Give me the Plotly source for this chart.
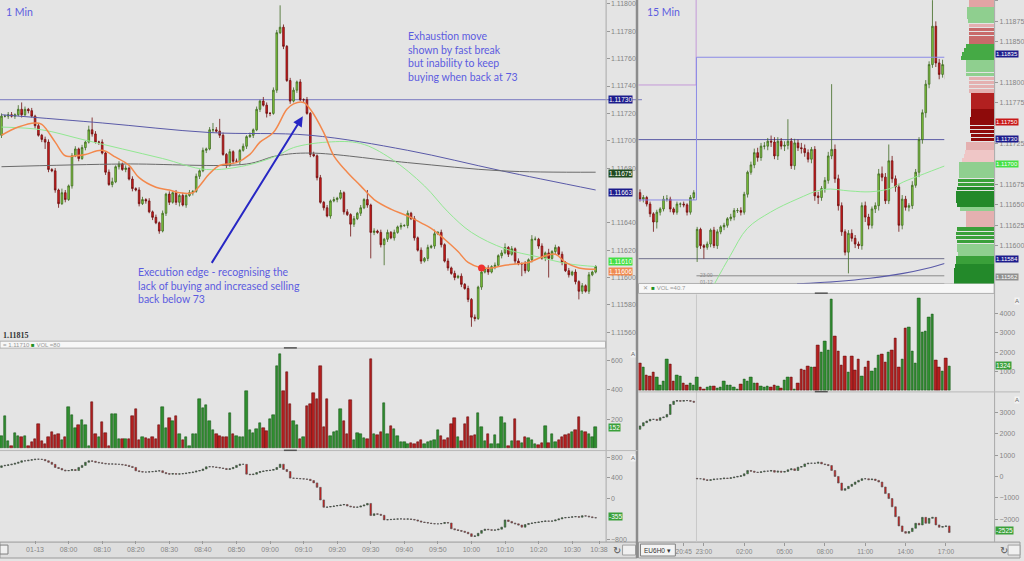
import plotly.graph_objects as go

W, H = 1024, 561

# ================= LEFT : 1 Min chart (index 0 = 07:40) =================
L_TICK_IDX = [10, 20, 30, 40, 50, 60, 70, 80, 90, 100, 110, 120, 130, 140, 150, 160, 170, 178]
L_TICK_TXT = ["01-13", "08:00", "08:10", "08:20", "08:30", "08:40", "08:50", "09:00", "09:10",
              "09:20", "09:30", "09:40", "09:50", "10:00", "10:10", "10:20", "10:30", "10:38"]
L_PRICE_TICKS = [111560, 111580, 111600, 111620, 111640, 111680, 111700, 111720, 111740, 111760,
                 111780, 111800]

# prices in points (1e-5)
L_OPEN0 = 111704
l_close = [
    111718, 111718, 111719, 111718, 111719, 111723, 111719, 111723, 111722, 111718,
    111711, 111704, 111701, 111699, 111679, 111678, 111664, 111654, 111662, 111657,
    111667, 111689, 111694, 111687, 111695, 111699, 111708, 111705, 111699, 111699,
    111691, 111677, 111668, 111670, 111681, 111683, 111679, 111680, 111672, 111665,
    111664, 111654, 111657, 111656, 111648, 111644, 111640, 111634, 111647, 111661,
    111655, 111662, 111655, 111660, 111653, 111660, 111662, 111663, 111674, 111678,
    111693, 111694, 111708, 111708, 111707, 111704, 111690, 111682, 111692, 111685,
    111685, 111693, 111696, 111703, 111704, 111708, 111723, 111729, 111726, 111720,
    111720, 111737, 111779, 111783, 111769, 111744, 111729, 111737, 111743, 111730,
    111730, 111720, 111690, 111689, 111673, 111655, 111651, 111645, 111656, 111657,
    111658, 111662, 111648, 111646, 111639, 111643, 111647, 111651, 111657, 111653,
    111633, 111634, 111633, 111624, 111628, 111633, 111629, 111633, 111637, 111638,
    111638, 111647, 111643, 111629, 111620, 111612, 111614, 111622, 111623, 111632,
    111633, 111624, 111612, 111607, 111603, 111600, 111601, 111595, 111592, 111584,
    111571, 111570, 111593, 111604, 111607, 111604, 111608, 111609, 111616, 111618,
    111622, 111617, 111621, 111612, 111610, 111610, 111605, 111613, 111628, 111628,
    111623, 111614, 111618, 111614, 111619, 111622, 111617, 111611, 111605, 111602,
    111604, 111597, 111590, 111594, 111590, 111602, 111604, 111608]
l_upper_wick = [
    2, 1, 2, 2, 1, 3, 5, 2, 1, 2,  1, 2, 1, 2, 2, 1, 2, 1, 3, 2,
    1, 2, 2, 1, 2, 1, 3, 9, 2, 1,  2, 1, 2, 3, 1, 2, 1, 2, 1, 2,
    1, 2, 2, 1, 2, 1, 2, 1, 2, 1,  2, 1, 2, 1, 2, 1, 2, 1, 2, 1,
    2, 1, 2, 5, 2, 9, 2, 1, 2, 1,  2, 1, 2, 1, 2, 1, 2, 1, 3, 2,
    1, 2, 2, 16, 2, 1, 2, 2, 1, 2,  1, 2, 1, 2, 1, 2, 1, 2, 1, 2,
    1, 2, 1, 2, 1, 2, 1, 2, 1, 7,  1, 2, 1, 2, 1, 2, 1, 2, 1, 2,
    1, 2, 1, 2, 1, 2, 1, 2, 1, 3,  1, 2, 1, 2, 1, 2, 1, 2, 1, 2,
    1, 2, 1, 2, 1, 2, 1, 2, 1, 2,  3, 1, 2, 1, 2, 1, 2, 1, 3, 2,
    1, 2, 1, 3, 1, 2, 1, 2, 1, 2,  1, 2, 1, 2, 1, 2, 1, 1]
l_lower_wick = [
    2, 1, 2, 1, 2, 1, 2, 1, 2, 1,  2, 1, 2, 5, 2, 1, 2, 3, 1, 2,
    1, 2, 1, 2, 1, 2, 1, 2, 1, 2,  1, 2, 1, 2, 1, 2, 1, 2, 1, 2,
    1, 2, 1, 2, 1, 2, 1, 2, 1, 2,  2, 1, 2, 3, 1, 2, 1, 2, 1, 2,
    1, 2, 1, 2, 1, 2, 1, 2, 1, 2,  1, 2, 1, 2, 1, 2, 1, 2, 1, 3,
    2, 1, 2, 1, 2, 1, 2, 1, 2, 1,  2, 1, 2, 1, 2, 1, 2, 1, 2, 1,
    2, 1, 2, 1, 9, 2, 1, 2, 1, 2,  19, 2, 1, 2, 15, 2, 1, 2, 1, 2,
    1, 2, 1, 2, 1, 2, 1, 2, 1, 2,  1, 2, 1, 2, 1, 2, 1, 2, 1, 2,
    7, 2, 1, 2, 1, 2, 1, 2, 1, 2,  1, 2, 1, 2, 1, 9, 2, 1, 2, 1,
    2, 1, 2, 14, 1, 2, 1, 2, 1, 2,  1, 2, 6, 2, 1, 2, 1, 1]
l_volume = [
    86, 221, 52, 18, 108, 86, 75, 86, 18, 41, 63, 165, 52, 29, 75, 115, 93, 97, 56, 79,
    282, 228, 142, 160, 197, 160, 18, 319, 97, 75,
    181, 108, 18, 237, 233, 63, 63, 63, 63, 221, 267, 59, 75, 70, 63, 75, 63, 158, 282, 142,
    210, 188, 221, 97, 56, 75, 18, 102, 102, 334, 278, 296, 188, 124, 97, 86, 75, 75, 244, 97,
    86, 79, 79, 391, 127, 108, 131, 172, 142, 120, 199, 226, 565, 646, 391, 522, 301, 188, 160,
    63, 75, 289, 301, 375, 334, 560, 147, 334, 86, 115, 120, 271, 188, 97, 328, 56, 108, 102, 70,
    63, 612, 102, 93, 115, 312, 102, 154, 131, 86, 41, 45, 29,
    34, 29, 41, 56, 29, 47, 52, 56, 124, 86, 59, 68, 170, 210, 75, 52,
    170, 215, 86, 93, 244, 147, 52, 102, 29, 90, 29, 215, 176, 18, 52, 199, 52, 34, 79, 68,
    56, 29, 25, 34,
    151, 34, 102, 45, 56, 79, 93, 102, 115, 127, 215, 120, 115, 97, 75, 147]
L_DELTA_OPEN0 = 600
l_delta = [
    631, 640, 650, 663, 680, 700, 728, 728, 740, 750,
    760, 760, 755, 730, 700, 660, 599, 580, 550, 535,
    540, 560, 540, 600, 640, 700, 728, 720, 700, 690,
    680, 670, 665, 668, 663, 660, 650, 640, 620, 600,
    535, 520, 510, 510, 515, 520, 530, 535, 500, 480,
    470, 480, 470, 475, 480, 490, 500, 510, 530, 540,
    570, 612, 615, 610, 600, 590, 580, 560, 575, 600,
    640, 663, 660, 470, 460, 470, 500, 520, 530, 540,
    545, 560, 599, 663, 560, 520, 393, 390, 385, 380,
    375, 370, 345, 300, 213, -32, -174, -170, -160, -150,
    -140, -130, -120, -150, -165, -174, -170, -150, -130, -100,
    -335, -300, -310, -330, -419, -415, -410, -405, -400, -400,
    -405, -400, -410, -420, -440, -460, -470, -480, -490, -496,
    -496, -490, -470, -480, -592, -610, -625, -640, -660, -689,
    -741, -730, -680, -625, -600, -610, -620, -615, -600, -560,
    -420, -450, -480, -496, -520, -560, -510, -490, -480, -470,
    -460, -450, -440, -445, -440, -420, -400, -380, -375, -370,
    -360, -355, -367, -340, -345, -360, -375, -380]

# moving averages read at sample candles (index, price points)
l_ema_fast_idx = [0, 5, 10, 12, 16, 19, 22, 25, 30, 34, 38, 41, 46, 50, 53, 57, 59, 62, 65, 70, 74, 77,
                  81, 85, 87, 90, 92, 96, 99, 103, 107, 111, 116, 121, 125, 128, 132, 136, 139, 143,
                  146, 150, 154, 157, 161, 165, 168, 172, 177]
l_ema_fast = [111704, 111710, 111713, 111712, 111699, 111689, 111689, 111690, 111693, 111688, 111682,
              111673, 111666, 111664, 111662, 111662, 111667, 111676, 111682, 111684, 111690, 111699,
              111706, 111723, 111727, 111728, 111723, 111706, 111689, 111677, 111667, 111657, 111650,
              111645, 111640, 111636, 111628, 111619, 111611, 111607, 111607, 111609, 111610, 111611,
              111615, 111617, 111611, 111607, 111606]
l_ma_green_idx = [0, 12, 24, 36, 48, 61, 73, 82, 87, 97, 107, 116, 126, 133, 140, 150, 160, 169, 177]
l_ma_green = [111710, 111708, 111701, 111694, 111687, 111679, 111682, 111689, 111695, 111699, 111698,
              111687, 111667, 111648, 111633, 111621, 111615, 111610, 111608]
l_ma_blue_idx = [0, 30, 62, 92, 121, 149, 177]
l_ma_blue = [111719, 111713, 111706, 111704, 111693, 111678, 111664]
l_ma_gray_idx = [0, 36, 73, 82, 92, 121, 149, 177]
l_ma_gray = [111681, 111683, 111683, 111689, 111691, 111684, 111678, 111677]
L_LEVEL = 111730
L_DOT_IDX, L_DOT = 143, 111607
L_TAGS = [111730, 111675, 111663, 111610, 111606]

# ================= RIGHT : 15 Min chart =================
R_TICK_IDX = [13, 19, 31, 43, 55, 67, 79, 91]
R_TICK_TXT = ["20:45", "23:00", "02:00", "05:00", "08:00", "11:00", "14:00", "17:00"]
R_PRICE_TICKS = [111600, 111625, 111650, 111675, 111725, 111775, 111800, 111850, 111875, 111900]
R_SESSION_START = 17
R_OPEN0, R_OPEN_SESSION = 111665, 111598
r_close = [
    111657, 111659, 111651, 111639, 111629, 111641, 111645, 111657, 111657, 111645, 111641, 111651,
    111651, 111650, 111641, 111659, 111665,
    111620, 111600, 111598, 111602, 111619, 111600, 111617, 111623, 111625, 111633, 111635, 111643,
    111643, 111641, 111663, 111690, 111699, 111714, 111708, 111722,
    111722, 111728, 111727, 111710, 111728, 111722, 111723, 111728, 111698, 111726, 111720, 111719,
    111714, 111706, 111718, 111661, 111659, 111670, 111680, 111710,
    111718, 111682, 111649, 111617, 111592, 111615, 111609, 111602, 111600, 111649, 111635, 111625,
    111645, 111649, 111688, 111684, 111655, 111704, 111682, 111672,
    111625, 111657, 111647, 111649, 111674, 111690, 111730, 111763, 111798, 111822, 111869, 111824,
    111810, 111822, 111804, 111831]
r_upper_wick = [
    4, 3, 2, 3, 2, 3, 2, 4, 5, 3, 2, 3, 2, 3, 2, 3, 3,
    3, 2, 2, 3, 2, 4, 3, 2, 3, 2, 4, 3, 3, 4, 3, 2, 4, 5, 6, 4,
    5, 4, 7, 6, 5, 4, 5, 27, 4, 5, 4, 6, 5, 4, 3, 4, 5, 3, 4, 5,
    80, 6, 5, 4, 3, 4, 5, 4, 3, 4, 5, 4, 3, 4, 6, 9, 5, 20, 6, 4,
    4, 5, 4, 3, 5, 4, 3, 4, 5, 4, 32, 6, 5, 6, 5, 7]
r_lower_wick = [
    3, 4, 3, 4, 12, 8, 4, 3, 3, 4, 3, 3, 4, 3, 4, 3, 3,
    18, 4, 14, 3, 4, 3, 4, 3, 4, 3, 3, 4, 3, 4, 3, 4, 3, 4, 5, 4,
    4, 5, 6, 4, 5, 4, 6, 5, 4, 5, 4, 6, 5, 4, 5, 6, 8, 4, 5, 4,
    4, 5, 6, 5, 4, 26, 4, 5, 4, 5, 6, 5, 4, 5, 6, 5, 4, 4, 5, 6,
    8, 5, 4, 5, 4, 3, 6, 5, 6, 5, 4, 5, 6, 4, 5, 4]
r_volume = [
    1402, 1231, 821, 735, 940, 718, 308, 513, 1625, 1368, 513, 821, 770, 376, 308, 376, 291,
    684, 171, 86, 171, 257, 257, 137, 171, 479, 308, 308, 205, 86, 342, 599, 513, 684, 376, 376,
    257, 171, 257, 171, 308, 257, 137, 564, 684, 684, 86, 376, 1111, 1077, 1282, 1231, 1231,
    2360, 2000, 2531, 2103, 4703, 2787, 2052, 1334, 1795, 940, 1778, 1060, 1607, 770, 1231,
    1539, 1026, 1163, 1847, 1881, 1488, 2000, 2086, 2685, 1197, 1625, 3215, 3249, 2018, 1419,
    4754, 3027, 3078, 3796, 3933, 1573, 1231, 1026, 1659, 1282]
R_DELTA_OPEN0, R_DELTA_OPEN_SESSION = 2206, -90
r_delta = [
    2361, 2515, 2592, 2669, 2669, 2623, 2747, 2777, 2900, 3364, 3518, 3549, 3518, 3549, 3549,
    3518, 3472,
    -108, -108, -154, -185, -154, -123, -123, -108, -77, -93, -62, -31, 0, 31, 123, 278, 247,
    201, 185, 216, 247,
    247, 278, 201, 247, 201, 231, 309, 355, 278, 432, 463, 586, 617, 617, 617, 663, 586, 555,
    509, 278, 0, -309, -648, -571, -463, -370, -262, -185, -108, -108, -154, -123, -185, -262,
    -494, -802, -1034, -1420, -1883, -2315, -2577, -2654, -2577, -2423, -2191, -2268, -1913,
    -2191, -1960, -1913, -2268, -2376, -2345, -2315, -2623]

r_ma_green_idx = [22.0, 26.9, 31.9, 38.8, 46.7, 54.6, 62.5, 68.4, 74.4, 78.3, 83.2, 92.1]
r_ma_green = [111552, 111588, 111621, 111641, 111657, 111669, 111667, 111666, 111670, 111678,
              111686, 111700]
r_ma_blue_idx = [46.7, 58.5, 68.4, 78.3, 85.2, 92.1]
r_ma_blue = [111553, 111556, 111560, 111566, 111572, 111580]
R_LEVEL_NAVY, R_LEVEL_GRAY1, R_LEVEL_GRAY2 = 111730, 111584, 111563
R_PINK_BEFORE, R_BLUE_BEFORE, R_BLUE_AFTER = 111797, 111656, 111831
R_TAGS = [111835, 111750, 111730, 111700, 111584, 111562]

# volume profile (price levels every 5 points, top to bottom)
PROF_TOP, PROF_STEP = 111900, 5
prof_volume = [25, 25, 27, 27, 27, 26, 25, 25, 25, 25, 25, 28, 30, 32, 33, 28, 28, 28, 28, 25,
               25, 25, 25, 23, 23, 23, 23, 23, 23, 24, 24, 24, 24, 23, 23, 28, 28, 29, 30, 32,
               35, 35, 35, 35, 36, 36, 37, 38, 38, 38, 37, 34, 28, 28, 28, 28, 37, 38, 38, 37,
               37, 37, 36, 38, 38, 39, 40, 40, 40, 40]
prof_kind = ["lr", "lr", "gl", "gl", "gl", "gl", "pk", "rm", "rm", "rm", "rm", "gm", "gm", "gm", "gm",
             "gl", "gl", "gl", "gl", "pk", "pk", "pk", "pk", "dr", "dr", "dr", "dr", "mr", "mr", "mr",
             "mr", "mr", "mr", "mr", "mr", "pk", "pk", "lp", "lp", "lp", "gl", "gl", "gl", "gl", "g",
             "g", "gd", "gd", "gd", "gd", "gd", "gl", "pk", "pk", "pk", "pk", "g", "g", "g", "g",
             "gl", "gl", "gl", "g", "g", "gd", "gd", "gd", "gd", "gd"]

for name, arr, n in [("l_close", l_close, 178), ("l_uw", l_upper_wick, 178), ("l_lw", l_lower_wick, 178),
                     ("l_volume", l_volume, 178), ("l_delta", l_delta, 178), ("r_close", r_close, 93),
                     ("r_uw", r_upper_wick, 93), ("r_lw", r_lower_wick, 93), ("r_volume", r_volume, 93),
                     ("r_delta", r_delta, 93), ("prof", prof_volume, 70), ("prof_kind", prof_kind, 70)]:
    assert len(arr) == n, (name, len(arr))

# ================= styles =================
BG = "#e4e4e4"
UP_FILL, UP_LINE = "#86d03c", "#3f6a22"
DN_FILL, DN_LINE = "#d81c1c", "#6e1010"
VOL_UP, VOL_UP_LINE = "#2f8f2f", "#1d5a1d"
VOL_DN, VOL_DN_LINE = "#b51f1f", "#661010"
TXT_BLUE = "#5c5ce0"
TICK_FONT = dict(family="Liberation Sans", size=7, color="#858585")
PROF_COLORS = {"lr": "#e2a4a4", "gl": "#8fcf8f", "pk": "#e4b0b0", "rm": "#c86a6a", "gm": "#45aa45",
               "dr": "#b22020", "mr": "#8e0a0a", "lp": "#efc6c6", "g": "#3aa03a", "gd": "#23892a"}

P = 1e-5


def pys(v):
    return [x * P for x in v]


def ohlc(close, open0, uw, lw, restarts=None):
    restarts = restarts or {}
    o = []
    for i, c in enumerate(close):
        if i == 0:
            o.append(open0)
        elif i in restarts:
            o.append(restarts[i])
        else:
            o.append(close[i - 1])
    hi = [max(a, b) + u for a, b, u in zip(o, close, uw)]
    lo = [min(a, b) - d for a, b, d in zip(o, close, lw)]
    return o, hi, lo


def yp(px):
    return 1 - px / H


def xp(px):
    return px / W


fig = go.Figure()

# ---------- left traces ----------
li = list(range(len(l_close)))
lo_, lh_, ll_ = ohlc(l_close, L_OPEN0, l_upper_wick, l_lower_wick)
fig.add_trace(go.Scatter(x=l_ma_blue_idx, y=pys(l_ma_blue), mode="lines", line=dict(color="#5a5aa8", width=1, shape="spline"),
                         xaxis="x", yaxis="y", hoverinfo="skip"))
fig.add_trace(go.Scatter(x=l_ma_gray_idx, y=pys(l_ma_gray), mode="lines", line=dict(color="#6a6a6a", width=1, shape="spline"),
                         xaxis="x", yaxis="y", hoverinfo="skip"))
fig.add_trace(go.Scatter(x=l_ma_green_idx, y=pys(l_ma_green), mode="lines", line=dict(color="#92e892", width=1, shape="spline"),
                         xaxis="x", yaxis="y", hoverinfo="skip"))
fig.add_trace(go.Candlestick(x=li, open=pys(lo_), high=pys(lh_), low=pys(ll_), close=pys(l_close),
                             increasing=dict(fillcolor=UP_FILL, line=dict(color=UP_LINE, width=0.8)),
                             decreasing=dict(fillcolor=DN_FILL, line=dict(color=DN_LINE, width=0.8)),
                             xaxis="x", yaxis="y", whiskerwidth=0))
fig.add_trace(go.Scatter(x=l_ema_fast_idx, y=pys(l_ema_fast), mode="lines", line=dict(color="#f3884c", width=1.5, shape="spline"),
                         xaxis="x", yaxis="y", hoverinfo="skip"))
fig.add_trace(go.Scatter(x=[L_DOT_IDX], y=[L_DOT * P], mode="markers", marker=dict(color="#f03030", size=7),
                         xaxis="x", yaxis="y", hoverinfo="skip"))

l_up = [c >= o for o, c in zip(lo_, l_close)]
fig.add_trace(go.Bar(x=li, y=l_volume, xaxis="x", yaxis="y2", width=0.72,
                     marker=dict(color=[VOL_UP if u else VOL_DN for u in l_up],
                                 line=dict(color=[VOL_UP_LINE if u else VOL_DN_LINE for u in l_up], width=0.6))))
do_, dh_, dl_ = ohlc(l_delta, L_DELTA_OPEN0, [0] * len(l_delta), [0] * len(l_delta))
fig.add_trace(go.Candlestick(x=li, open=do_, high=dh_, low=dl_, close=l_delta,
                             increasing=dict(fillcolor=VOL_UP, line=dict(color="#444444", width=0.6)),
                             decreasing=dict(fillcolor="#d01818", line=dict(color="#555555", width=0.6)),
                             xaxis="x", yaxis="y3", whiskerwidth=0))

# ---------- right traces ----------
ri = list(range(len(r_close)))
ro_, rh_, rl_ = ohlc(r_close, R_OPEN0, r_upper_wick, r_lower_wick, {R_SESSION_START: R_OPEN_SESSION})
# step lines (levels of the previous / current session)
fig.add_trace(go.Scatter(x=[-1, R_SESSION_START - 0.3, R_SESSION_START - 0.3],
                         y=[R_PINK_BEFORE * P, R_PINK_BEFORE * P, 1.1200],
                         mode="lines", line=dict(color="#c49ad8", width=1), xaxis="x2", yaxis="y4", hoverinfo="skip"))
fig.add_trace(go.Scatter(x=[-1, R_SESSION_START - 0.2, R_SESSION_START - 0.2, 106],
                         y=[R_BLUE_BEFORE * P, R_BLUE_BEFORE * P, R_BLUE_AFTER * P, R_BLUE_AFTER * P],
                         mode="lines", line=dict(color="#8b8be6", width=1), xaxis="x2", yaxis="y4", hoverinfo="skip"))
fig.add_trace(go.Scatter(x=r_ma_green_idx, y=pys(r_ma_green), mode="lines", line=dict(color="#92e892", width=1, shape="spline"),
                         xaxis="x2", yaxis="y4", hoverinfo="skip"))
fig.add_trace(go.Scatter(x=r_ma_blue_idx, y=pys(r_ma_blue), mode="lines", line=dict(color="#5a5aa8", width=1.2, shape="spline"),
                         xaxis="x2", yaxis="y4", hoverinfo="skip"))
fig.add_trace(go.Candlestick(x=ri, open=pys(ro_), high=pys(rh_), low=pys(rl_), close=pys(r_close),
                             increasing=dict(fillcolor=UP_FILL, line=dict(color=UP_LINE, width=0.8)),
                             decreasing=dict(fillcolor=DN_FILL, line=dict(color=DN_LINE, width=0.8)),
                             xaxis="x2", yaxis="y4", whiskerwidth=0))
prof_prices = [(PROF_TOP - k * PROF_STEP) * P for k in range(len(prof_volume))]
fig.add_trace(go.Bar(x=prof_volume, y=prof_prices, orientation="h", xaxis="x3", yaxis="y4",
                     width=PROF_STEP * P * 0.92,
                     marker=dict(color=[PROF_COLORS[k] for k in prof_kind], line=dict(width=0))))
r_up = [c >= o for o, c in zip(ro_, r_close)]
fig.add_trace(go.Bar(x=ri, y=r_volume, xaxis="x2", yaxis="y5", width=0.72,
                     marker=dict(color=[VOL_UP if u else VOL_DN for u in r_up],
                                 line=dict(color=[VOL_UP_LINE if u else VOL_DN_LINE for u in r_up], width=0.6))))
rdo_, rdh_, rdl_ = ohlc(r_delta, R_DELTA_OPEN0, [0] * len(r_delta), [0] * len(r_delta),
                        {R_SESSION_START: R_DELTA_OPEN_SESSION})
fig.add_trace(go.Candlestick(x=ri, open=rdo_, high=rdh_, low=rdl_, close=r_delta,
                             increasing=dict(fillcolor=VOL_UP, line=dict(color="#444444", width=0.6)),
                             decreasing=dict(fillcolor="#d01818", line=dict(color="#555555", width=0.6)),
                             xaxis="x2", yaxis="y6", whiskerwidth=0))

# ================= axes =================
common = dict(showgrid=False, zeroline=False, showline=False, tickfont=TICK_FONT, fixedrange=True)
l_px0 = 1.5
l_scale = 3.37
r_px0, r_scale = 642.5, 3.375

fig.update_layout(
    width=W, height=H, margin=dict(l=0, r=0, t=0, b=0),
    paper_bgcolor=BG, plot_bgcolor=BG, showlegend=False, bargap=0,
    xaxis=dict(domain=[0, xp(608)], range=[(0 - l_px0) / l_scale, (608 - l_px0) / l_scale], anchor="y3",
               tickvals=L_TICK_IDX, ticktext=L_TICK_TXT, ticks="outside", ticklen=3, tickcolor="#999",
               tickangle=0, rangeslider=dict(visible=False), **common),
    yaxis=dict(domain=[yp(342), 1], range=[1.115542, 1.118029], anchor="x", side="right",
               tickvals=[v * P for v in L_PRICE_TICKS], ticktext=[f"{v * P:.5f}" for v in L_PRICE_TICKS],
               ticks="outside", ticklen=3, tickcolor="#999", **common),
    yaxis2=dict(domain=[yp(451), yp(350)], range=[0, 685], anchor="x", side="right",
                tickvals=[200, 400, 600], ticks="outside", ticklen=3, tickcolor="#999", **common),
    yaxis3=dict(domain=[yp(543), yp(455)], range=[-812, 889], anchor="x", side="right",
                tickvals=[-800, 0, 400, 800], ticks="outside", ticklen=3, tickcolor="#999", **common),
    xaxis2=dict(domain=[xp(641), xp(998)], range=[(641 - r_px0) / r_scale, (998 - r_px0) / r_scale], anchor="y6",
                tickvals=R_TICK_IDX, ticktext=R_TICK_TXT, ticks="outside", ticklen=3, tickcolor="#999",
                tickangle=0, rangeslider=dict(visible=False),
                showgrid=False, zeroline=False, showline=False, fixedrange=True,
                tickfont=dict(family="Liberation Sans", size=6.5, color="#858585")),
    yaxis4=dict(domain=[yp(285), 1], range=[1.115536, 1.119012], anchor="x2", side="right",
                tickvals=[v * P for v in R_PRICE_TICKS], ticktext=[f"{v * P:.5f}" for v in R_PRICE_TICKS],
                ticks="outside", ticklen=3, tickcolor="#999", **common),
    yaxis5=dict(domain=[yp(393), yp(296)], range=[0, 4974], anchor="x2", side="right",
                tickvals=[1000, 2000, 3000, 4000, 5000], ticks="outside", ticklen=3, tickcolor="#999", **common),
    yaxis6=dict(domain=[yp(545), yp(395)], range=[-3070, 3907], anchor="x2", side="right",
                tickvals=[-2000, -1000, 0, 1000, 2000, 3000], ticks="outside", ticklen=3, tickcolor="#999", **common),
    xaxis3=dict(domain=[xp(948), xp(998)], range=[50, 0], anchor="y4", visible=False, fixedrange=True),
)

# ================= shapes =================
shapes = []
# panel frames drawn beneath ticks / traces
for (x0, y0, x1, y1, fill, lc) in [
    (0, 343, 608, 350, "#f7f7f7", "#b0b0b0"),
    (641, 285, 998, 295, "#f7f7f7", "#b0b0b0"),
    (0, 545, 640, 561, "#dedede", "#9a9a9a"),
    (641, 545, 1024, 561, "#dedede", "#9a9a9a"),
    (643, 547, 678, 559, "#f4f4f4", "#808080"),
    (0, 548, 8, 557, "#f0f0f0", "#808080"),
    (625, 548, 638, 558, "#f0f0f0", "#a0a0a0"),
    (1012, 548, 1024, 558, "#f0f0f0", "#a0a0a0"),
]:
    shapes.append(dict(type="rect", xref="paper", yref="paper", x0=xp(x0), x1=xp(x1), y0=yp(y1), y1=yp(y0),
                       fillcolor=fill, line=dict(color=lc, width=1), layer="below"))
# level lines
shapes.append(dict(type="line", xref="x domain", yref="y", x0=0, x1=1.06, y0=L_LEVEL * P, y1=L_LEVEL * P,
                   line=dict(color="#7676bf", width=1), layer="below"))
for lvl, col in [(R_LEVEL_NAVY, "#5a5aa6"), (R_LEVEL_GRAY1, "#6f6f8a")]:
    shapes.append(dict(type="line", xref="x2 domain", yref="y4", x0=0, x1=1, y0=lvl * P, y1=lvl * P,
                       line=dict(color=col, width=1), layer="below"))
shapes.append(dict(type="line", xref="x2", yref="y4", x0=R_SESSION_START - 0.2, x1=92.6,
                   y0=R_LEVEL_GRAY2 * P, y1=R_LEVEL_GRAY2 * P, line=dict(color="#8a8a8a", width=1), layer="below"))
# session divider & current bar marker
shapes.append(dict(type="line", xref="x2", yref="paper", x0=R_SESSION_START - 0.2, x1=R_SESSION_START - 0.2,
                   y0=yp(545), y1=yp(296), line=dict(color="#c8c8c8", width=1), layer="below"))
shapes.append(dict(type="line", xref="x2", yref="y4 domain", x0=92.6, x1=92.6, y0=0, y1=1,
                   line=dict(color="#9a9a9a", width=1, dash="dot"), layer="below"))
for (x0, y0, x1, y1, col, w) in [
    (608.5, 0, 608.5, 545, "#a8a8a8", 1),
    (998.5, 0, 998.5, 545, "#a8a8a8", 1),
    (639.5, 0, 639.5, 561, "#8c8c8c", 2.5),
    (0, 453, 640, 453, "#b8b8b8", 1),
    (641, 394, 1024, 394, "#b8b8b8", 1),
]:
    shapes.append(dict(type="line", xref="paper", yref="paper", x0=xp(x0), x1=xp(x1), y0=yp(y0), y1=yp(y1),
                       line=dict(color=col, width=w), layer="above"))
for (x0, y0) in [(285, 349), (285, 452), (818, 294), (818, 393)]:
    shapes.append(dict(type="rect", xref="paper", yref="paper", x0=xp(x0), x1=xp(x0 + 13), y0=yp(y0 + 1.5),
                       y1=yp(y0), fillcolor="#555", line=dict(width=0), layer="above"))
fig.update_layout(shapes=shapes)

# ================= annotations =================
ann = []
TXT_FONT = dict(family="Lato", size=10.5, color=TXT_BLUE)
ann.append(dict(text="1 Min", x=xp(4), y=yp(4), xref="paper", yref="paper", xanchor="left", yanchor="top",
                showarrow=False, font=TXT_FONT))
ann.append(dict(text="15 Min", x=xp(648), y=yp(4), xref="paper", yref="paper", xanchor="left", yanchor="top",
                showarrow=False, font=TXT_FONT))
ann.append(dict(text="Exhaustion move<br>shown by fast break<br>but inability to keep<br>buying when back at 73",
                x=xp(408), y=yp(28), xref="paper", yref="paper", xanchor="left", yanchor="top", align="left",
                showarrow=False, font=TXT_FONT))
ann.append(dict(text="Execution edge - recognising the<br>lack of buying and increased selling<br>back below 73",
                x=xp(137), y=yp(265), xref="paper", yref="paper", xanchor="left", yanchor="top", align="left",
                showarrow=False, font=TXT_FONT))
ann.append(dict(text="", x=xp(304), y=yp(117), xref="paper", yref="paper", ax=-92, ay=148, showarrow=True,
                arrowhead=2, arrowsize=1, arrowwidth=2, arrowcolor="#2727c4"))
# price tags (left)
L_TAG_COLORS = ["#1c1c8c", "#1f4a1f", "#1c1c8c", "#44e044", "#f08a50"]
L_TAG_SHIFT = [0, -1, 1, -2, 2]
for v, c, s in zip(L_TAGS, L_TAG_COLORS, L_TAG_SHIFT):
    ann.append(dict(text=f"{v * P:.5f}", x=xp(610), xref="paper", y=v * P, yref="y", xanchor="left",
                    yanchor="middle", yshift=-s, showarrow=False, bgcolor=c, borderpad=0,
                    font=dict(family="Liberation Sans", size=6.5, color="white")))
R_TAG_COLORS = ["#1c1c8c", "#c81818", "#1c1c8c", "#44e044", "#1c1c8c", "#909090"]
R_TAG_SHIFT = [0, 1, 1, 0, 0, 0]
for v, c, s in zip(R_TAGS, R_TAG_COLORS, R_TAG_SHIFT):
    ann.append(dict(text=f"{v * P:.5f}", x=xp(999), xref="paper", y=v * P, yref="y4", xanchor="left",
                    yanchor="middle", yshift=s, showarrow=False, bgcolor=c, borderpad=0,
                    font=dict(family="Liberation Sans", size=6, color="white")))
for text, yref, yv, xpx in [("152", "y2", l_volume[-1], 610), ("-355", "y3", -355, 610),
                            ("1324", "y5", 1324, 999), ("-2525", "y6", -2525, 999)]:
    ann.append(dict(text=text, x=xp(xpx), xref="paper", y=yv, yref=yref, xanchor="left", yanchor="middle",
                    showarrow=False, bgcolor="#3aa03a", borderpad=0,
                    font=dict(family="Liberation Sans", size=6.5, color="white")))
# header / misc texts
ann.append(dict(text="<b>1.11815</b>", x=xp(1), y=yp(337), xref="paper", yref="paper", xanchor="left",
                yanchor="middle", showarrow=False, font=dict(family="Liberation Serif", size=8, color="#333")))
ann.append(dict(text="= 1.11710 <span style='color:#1f8f1f'>■</span> VOL =80", x=xp(1), y=yp(346.5),
                xref="paper", yref="paper", xanchor="left", yanchor="middle", showarrow=False,
                font=dict(family="Liberation Sans", size=6, color="#999")))
ann.append(dict(text="✕  <span style='color:#1f8f1f'>■</span> VOL =40.7", x=xp(644), y=yp(290),
                xref="paper", yref="paper", xanchor="left", yanchor="middle", showarrow=False,
                font=dict(family="Liberation Sans", size=6, color="#999")))
ann.append(dict(text="23:00<br>01-12", x=xp(701), y=yp(280), xref="paper", yref="paper", xanchor="left",
                yanchor="middle", showarrow=False, align="left",
                font=dict(family="Liberation Sans", size=5, color="#8a8a8a")))
ann.append(dict(text="EU6H0 ▾", x=xp(645), y=yp(553), xref="paper", yref="paper", xanchor="left",
                yanchor="middle", showarrow=False, font=dict(family="Liberation Sans", size=6.5, color="#333")))
for xpx in [613, 1002]:
    ann.append(dict(text="↻", x=xp(xpx), y=yp(553), xref="paper", yref="paper", xanchor="left",
                    yanchor="middle", showarrow=False, font=dict(family="DejaVu Sans", size=10, color="#555")))
for xpx, ypx in [(632, 352), (632, 456), (1018, 299), (1018, 398)]:
    ann.append(dict(text="A", x=xp(xpx), y=yp(ypx), xref="paper", yref="paper", xanchor="left",
                    yanchor="top", showarrow=False, bgcolor="#f2f2f2", borderpad=0,
                    font=dict(family="Liberation Sans", size=6, color="#666")))
fig.update_layout(annotations=ann)

fig.write_html("out.html", config={"displayModeBar": False},
               post_script="document.body.style.margin='0';document.body.style.overflow='hidden';")
